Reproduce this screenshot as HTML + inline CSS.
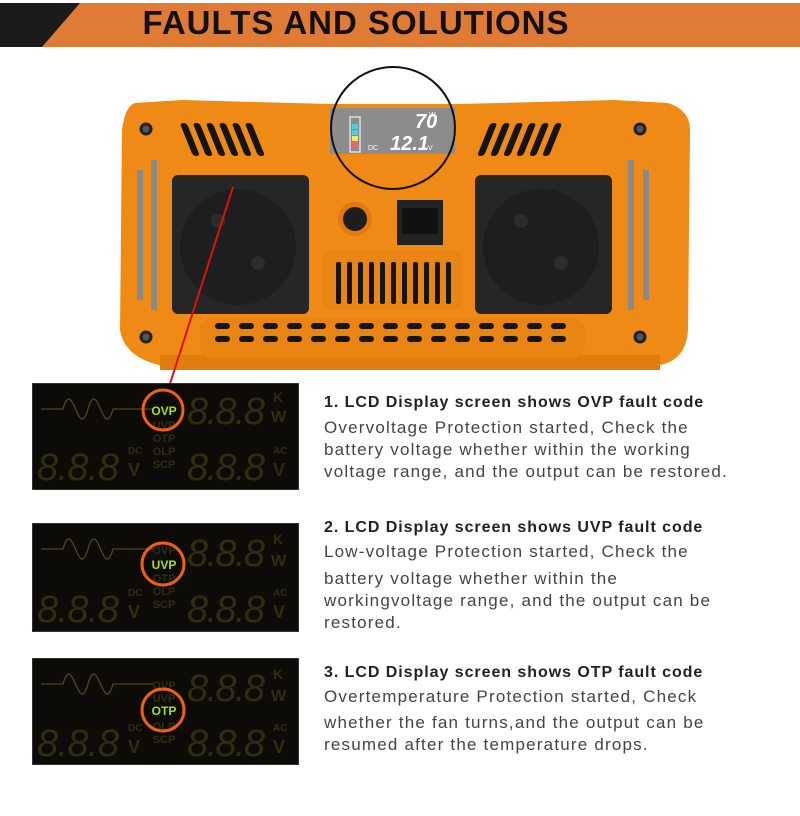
<!DOCTYPE html>
<html><head><meta charset="utf-8"><style>
body{margin:0;width:800px;height:816px;background:#fff;position:relative;overflow:hidden;font-family:"Liberation Sans",sans-serif}
.t{position:absolute;left:324px;font-size:17px;color:#444;white-space:nowrap;letter-spacing:1.2px}
.h{font-weight:bold;color:#222;font-size:16px;letter-spacing:0.95px}
.p{position:absolute;left:32px;width:265px;background:#0c0b08;border:1px solid #333}
</style></head><body>
<svg width="800" height="60" style="position:absolute;left:0;top:0">
<rect x="0" y="3" width="800" height="44" fill="#e07b35"/>
<polygon points="0,3 80,3 42,47 0,47" fill="#1b1b1b"/>
<text x="356" y="34" text-anchor="middle" font-family="Liberation Sans" font-weight="bold" font-size="33" fill="#111" letter-spacing="1">FAULTS AND SOLUTIONS</text>
</svg>
<svg width="800" height="400" style="position:absolute;left:0;top:0">
<path d="M135,103 L182,100 L330,104 L460,104 L615,100 L668,103 Q690,110 690,130 L688,330 Q686,360 660,365 L175,368 Q125,362 120,330 L122,130 Q125,106 135,103Z" fill="#f08a16"/>
<rect x="160" y="355" width="500" height="15" fill="#e07c10"/>
<g fill="#141414">
<g transform="skewX(22)">
<rect x="130" y="123" width="7" height="33" rx="3"/><rect x="143" y="123" width="7" height="33" rx="3"/><rect x="156" y="123" width="7" height="33" rx="3"/><rect x="169" y="123" width="7" height="33" rx="3"/><rect x="182" y="123" width="7" height="33" rx="3"/><rect x="195" y="123" width="7" height="33" rx="3"/></g>
<g transform="skewX(-22)">
<rect x="540" y="123" width="7" height="33" rx="3"/><rect x="553" y="123" width="7" height="33" rx="3"/><rect x="566" y="123" width="7" height="33" rx="3"/><rect x="579" y="123" width="7" height="33" rx="3"/><rect x="592" y="123" width="7" height="33" rx="3"/><rect x="605" y="123" width="7" height="33" rx="3"/></g>
</g>
<rect x="330" y="108" width="125" height="46" fill="#8c8c8c"/>
<rect x="350" y="117" width="10" height="35" fill="none" stroke="#ddd" stroke-width="1.5"/>
<rect x="352" y="124" width="6" height="5" fill="#5cd"/><rect x="352" y="130" width="6" height="5" fill="#5cd"/><rect x="352" y="136" width="6" height="5" fill="#ee6"/><rect x="352" y="142" width="6" height="6" fill="#e66"/>
<text x="415" y="128" font-size="20" font-weight="bold" fill="#fff" font-style="italic">70</text><text x="429" y="117" font-size="7" fill="#fff">W</text>
<text x="390" y="150" font-size="20" font-weight="bold" fill="#fff" font-style="italic">12.1</text><text x="428" y="150" font-size="7" fill="#fff">V</text><text x="368" y="150" font-size="7" fill="#fff">DC</text>
<rect x="172" y="175" width="137" height="139" rx="6" fill="#262626"/>
<rect x="475" y="175" width="137" height="139" rx="6" fill="#262626"/>
<circle cx="238" cy="247" r="58" fill="#1e1e1e"/><circle cx="541" cy="247" r="58" fill="#1e1e1e"/>
<circle cx="218" cy="221" r="7" fill="#2c2c2c"/><circle cx="258" cy="263" r="7" fill="#2c2c2c"/>
<circle cx="521" cy="221" r="7" fill="#2c2c2c"/><circle cx="561" cy="263" r="7" fill="#2c2c2c"/>
<circle cx="355" cy="219" r="17" fill="#e07a10"/><circle cx="355" cy="219" r="12" fill="#1d1d1d"/>
<rect x="397" y="200" width="46" height="45" fill="#222"/><rect x="402" y="208" width="36" height="26" fill="#111"/>
<rect x="323" y="250" width="140" height="60" rx="10" fill="#e98512"/>
<g fill="#151515"><rect x="336" y="262" width="5" height="42" rx="2"/><rect x="347" y="262" width="5" height="42" rx="2"/><rect x="358" y="262" width="5" height="42" rx="2"/><rect x="369" y="262" width="5" height="42" rx="2"/><rect x="380" y="262" width="5" height="42" rx="2"/><rect x="391" y="262" width="5" height="42" rx="2"/><rect x="402" y="262" width="5" height="42" rx="2"/><rect x="413" y="262" width="5" height="42" rx="2"/><rect x="424" y="262" width="5" height="42" rx="2"/><rect x="435" y="262" width="5" height="42" rx="2"/><rect x="446" y="262" width="5" height="42" rx="2"/></g>
<rect x="200" y="318" width="385" height="40" rx="12" fill="#e98512"/>
<g stroke="#151515" stroke-width="6" stroke-linecap="round" stroke-dasharray="9,15">
<line x1="218" y1="326" x2="570" y2="326"/><line x1="218" y1="339" x2="570" y2="339"/></g>
<g fill="#555" stroke="#222" stroke-width="3"><circle cx="146" cy="129" r="5"/><circle cx="640" cy="129" r="5"/><circle cx="146" cy="337" r="5"/><circle cx="640" cy="337" r="5"/></g>
<g fill="#8a8a8a"><rect x="137" y="170" width="6" height="130"/><rect x="151" y="160" width="6" height="150"/><rect x="643" y="170" width="6" height="130"/><rect x="628" y="160" width="6" height="150"/></g>
<ellipse cx="393" cy="128" rx="62" ry="61" fill="none" stroke="#111" stroke-width="2"/>
<line x1="233" y1="187" x2="168" y2="390" stroke="#e01010" stroke-width="2"/>
</svg>

<svg class="p" style="top:383px;height:105px" viewBox="0 0 265 105">
<path d="M8,25 H30 C40,-10 45,60 55,25 C65,-10 70,60 80,25 H120" stroke="#4a4a1a" fill="none" stroke-width="1.3"/>
<g font-family="Liberation Sans" fill="#2e2e0e"><text x="154" y="40" font-size="38" font-style="italic" textLength="78">8.8.8</text><text x="4" y="96" font-size="38" font-style="italic" textLength="82">8.8.8</text><text x="154" y="96" font-size="38" font-style="italic" textLength="78">8.8.8</text>
<g font-weight="bold"><text x="240" y="18" font-size="14">K</text><text x="238" y="38" font-size="16">W</text><text x="95" y="70" font-size="10">DC</text><text x="95" y="92" font-size="18">V</text><text x="240" y="70" font-size="10">AC</text><text x="240" y="92" font-size="18">V</text>
<g font-size="11" text-anchor="middle"><text x="131" y="45">UVP</text><text x="131" y="58">OTP</text><text x="131" y="71">OLP</text><text x="131" y="84">SCP</text></g></g></g>
<text x="131" y="31" font-size="12" font-weight="bold" fill="#a8e020" text-anchor="middle">OVP</text>
<circle cx="130" cy="26" r="20" fill="none" stroke="#f06010" stroke-width="3"/>
</svg>
<svg class="p" style="top:523px;height:107px" viewBox="0 0 265 107">
<path d="M8,25 H30 C40,-10 45,60 55,25 C65,-10 70,60 80,25 H120" stroke="#4a4a1a" fill="none" stroke-width="1.3"/>
<g font-family="Liberation Sans" fill="#2e2e0e"><text x="154" y="42" font-size="38" font-style="italic" textLength="78">8.8.8</text><text x="4" y="98" font-size="38" font-style="italic" textLength="82">8.8.8</text><text x="154" y="98" font-size="38" font-style="italic" textLength="78">8.8.8</text>
<g font-weight="bold"><text x="240" y="20" font-size="14">K</text><text x="238" y="42" font-size="16">W</text><text x="95" y="72" font-size="10">DC</text><text x="95" y="94" font-size="18">V</text><text x="240" y="72" font-size="10">AC</text><text x="240" y="94" font-size="18">V</text>
<g font-size="11" text-anchor="middle"><text x="131" y="30">OVP</text><text x="131" y="58">OTP</text><text x="131" y="71">OLP</text><text x="131" y="84">SCP</text></g></g></g>
<text x="131" y="45" font-size="12" font-weight="bold" fill="#a8e020" text-anchor="middle">UVP</text>
<circle cx="130" cy="40" r="21" fill="none" stroke="#f06010" stroke-width="3"/>
</svg>
<svg class="p" style="top:658px;height:105px" viewBox="0 0 265 105">
<path d="M8,25 H30 C40,-10 45,60 55,25 C65,-10 70,60 80,25 H120" stroke="#4a4a1a" fill="none" stroke-width="1.3"/>
<g font-family="Liberation Sans" fill="#2e2e0e"><text x="154" y="42" font-size="38" font-style="italic" textLength="78">8.8.8</text><text x="4" y="97" font-size="38" font-style="italic" textLength="82">8.8.8</text><text x="154" y="97" font-size="38" font-style="italic" textLength="78">8.8.8</text>
<g font-weight="bold"><text x="240" y="20" font-size="14">K</text><text x="238" y="42" font-size="16">W</text><text x="95" y="72" font-size="10">DC</text><text x="95" y="94" font-size="18">V</text><text x="240" y="72" font-size="10">AC</text><text x="240" y="94" font-size="18">V</text>
<g font-size="11" text-anchor="middle"><text x="131" y="30">OVP</text><text x="131" y="43">UVP</text><text x="131" y="71">OLP</text><text x="131" y="84">SCP</text></g></g></g>
<text x="131" y="56" font-size="12" font-weight="bold" fill="#a8e020" text-anchor="middle">OTP</text>
<circle cx="130" cy="51" r="21" fill="none" stroke="#f06010" stroke-width="3"/>
</svg>

<div class="t h" style="top:394px">1. LCD Display screen shows OVP fault code</div>
<div class="t" style="top:418px">Overvoltage Protection started, Check the</div>
<div class="t" style="top:440px">battery voltage whether within the working</div>
<div class="t" style="top:462px">voltage range, and the output can be restored.</div>

<div class="t h" style="top:519px">2. LCD Display screen shows UVP fault code</div>
<div class="t" style="top:542px">Low-voltage Protection started, Check the</div>
<div class="t" style="top:569px">battery voltage whether within the</div>
<div class="t" style="top:591px">workingvoltage range, and the output can be</div>
<div class="t" style="top:613px">restored.</div>

<div class="t h" style="top:664px">3. LCD Display screen shows OTP fault code</div>
<div class="t" style="top:687px">Overtemperature Protection started, Check</div>
<div class="t" style="top:713px">whether the fan turns,and the output can be</div>
<div class="t" style="top:735px">resumed after the temperature drops.</div>
</body></html>
